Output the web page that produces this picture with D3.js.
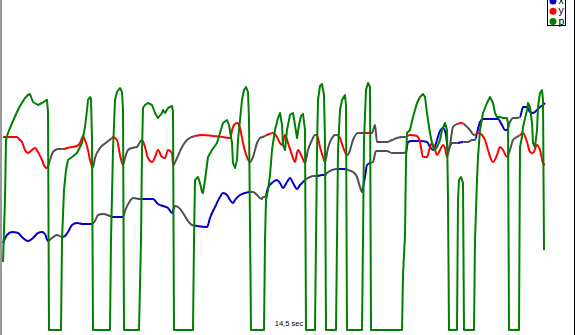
<!DOCTYPE html>
<html><head><meta charset="utf-8">
<script src="https://cdn.jsdelivr.net/npm/d3@7"></script>
<style>html,body{margin:0;padding:0;background:#fff;}svg{display:block;font-family:"Liberation Sans",Arial,sans-serif;}</style>
</head><body><svg id="c" width="576" height="335"></svg>
<script>
// time axis: frames; value axis: sensor units
const seriesNames = ["x", "y", "p"];
const durationLabel = "14,5 sec";

const pT = [3,5,6,8,10,13,17,20,25,28,30,33,38,42,45,47,48,49,61,62,64,66,68,72,77,82,85,87,88,90,91,92,93,110,111,113,115,117,120,122,123,124,139,141,142,143,145,148,152,155,158,162,163,165,168,172,173,174,193,194,195,198,200,202,203,205,208,212,217,220,223,227,229,232,233,235,237,238,240,242,244,246,248,249,251,264,265,266,268,270,272,275,278,280,282,283,285,287,290,293,295,297,299,301,303,305,306,315,316,317,318,320,322,324,325,326,336,337,338,340,342,345,346,347,362,363,364,366,368,370,371,402,403,405,406,407,410,413,417,420,423,425,427,428,430,432,433,435,437,440,442,445,447,448,449,457,458,459,461,463,464,474,475,477,478,480,483,487,490,493,495,497,500,503,507,508,509,519,520,522,523,527,528,530,532,533,535,537,538,540,542,543,544];
const pV = [68,130,190,197,202,209,218,224,232,235,236,228,225,227,229,230,218,0,0,90,140,160,170,173,177,187,203,220,230,233,231,190,0,0,90,180,230,238,242,238,220,0,0,90,180,222,225,227,225,217,212,217,220,217,222,224,218,0,0,90,150,153,147,138,137,150,173,180,187,197,207,210,205,187,167,162,170,190,210,230,240,243,238,210,0,0,90,130,140,155,180,200,212,217,205,185,180,200,215,217,205,192,205,214,216,200,0,0,90,180,230,244,246,235,190,0,0,90,180,220,230,235,225,0,0,90,190,240,247,243,0,0,55,95,170,197,200,213,227,233,236,233,217,210,197,187,183,180,183,190,200,207,200,130,0,0,130,150,153,147,0,0,90,150,173,200,217,227,233,227,217,213,213,212,212,207,0,0,183,193,203,220,227,223,207,187,183,200,223,237,240,230,80];

const xT = [3,7,12,18,23,28,33,38,42,45,48,52,57,62,65,68,72,77,83,92,95,98,103,110,113,123,125,130,133,140,153,158,163,168,172,175,178,183,188,192,197,207,210,215,220,223,227,230,233,235,240,245,250,253,257,260,262,263,265,268,273,277,280,283,287,290,293,297,300,303,305,310,313,317,322,325,327,332,337,345,348,353,357,360,362,363,365,367,370,373,376,387,392,400,403,406,408,412,420,427,430,433,437,440,443,446,448,452,457,463,468,472,475,477,480,483,493,498,502,505,507,510,513,517,520,522,523,527,530,533,537,540,543,545];
const xV = [87,95,98,97,92,89,92,97,98,96,89,92,95,93,94,98,105,107,106,106,109,115,116,114,113,113,119,129,132,131,131,126,124,122,117,124,123,117,109,105,104,103,112,123,133,137,135,130,127,130,135,137,138,138,135,132,131,133,133,142,148,150,147,142,148,152,147,141,145,148,150,153,154,154,155,155,157,160,161,161,160,158,153,143,138,143,153,165,167,168,179,179,177,177,177,178,188,189,189,188,183,180,190,199,202,195,180,187,187,188,188,190,190,197,208,211,211,211,205,200,200,208,212,212,213,220,223,223,218,217,220,223,225,227];

const yT = [3,17,19,22,25,28,32,35,38,42,45,47,50,53,58,63,67,72,77,80,82,83,85,88,90,93,95,100,107,112,113,117,120,123,125,128,132,137,140,142,145,148,152,155,158,162,165,168,172,173,177,182,187,192,195,203,213,223,230,233,237,240,243,247,250,253,257,260,263,267,273,277,280,282,285,288,292,295,297,298,302,305,308,312,315,317,320,323,325,328,332,335,337,340,343,347,349,353,358,362,367,372,375,377,387,392,397,402,405,410,417,420,423,427,430,432,435,437,440,443,445,447,450,453,457,462,465,470,474,478,482,485,488,493,497,500,503,507,510,513,517,520,523,527,530,533,537,540,543,545];
const yV = [193,193,191,188,180,177,180,182,178,170,163,162,170,178,181,181,182,183,184,187,192,194,190,180,170,163,172,182,188,192,193,190,175,165,172,180,182,183,188,190,183,172,168,173,180,173,172,180,177,165,172,183,190,193,194,195,194,193,192,203,207,202,187,173,168,173,187,192,193,195,197,193,187,185,195,187,175,168,177,180,173,167,180,190,195,195,183,173,168,182,192,195,195,192,183,175,177,190,197,197,197,197,205,188,188,190,192,193,193,195,194,188,173,173,183,187,180,175,180,185,182,173,185,203,206,207,205,200,195,197,195,190,180,168,175,183,180,173,180,190,193,195,197,188,178,177,185,180,167,165];

const colors = {x: "#0000c8", y: "#ff0000", p: "#008000", idle: "#505050"};

const svg = d3.select("#c");
const W = 576, H = 335;
const t = d3.scaleLinear().domain([0, 576]).range([0, 576]);
const v = d3.scaleLinear().domain([0, 330]).range([330, 0]);

// pen-up intervals derived from pressure falling below threshold
const thr = 100;
const ups = [];
let start = null;
for (let i = 1; i < pT.length; i++) {
  const a = pV[i-1], b = pV[i];
  if (a >= thr && b < thr) start = pT[i-1] + (a - thr) / (a - b) * (pT[i] - pT[i-1]);
  if (a < thr && b >= thr && start !== null) {
    const end = pT[i-1] + (thr - a) / (b - a) * (pT[i] - pT[i-1]);
    ups.push([start, end]); start = null;
  }
}
const downs = [];
let prev = 0;
ups.forEach(u => { downs.push([prev, u[0]]); prev = u[1]; });
downs.push([prev, 576]);

const defs = svg.append("defs");
function clip(id, ivs) {
  defs.append("clipPath").attr("id", id).selectAll("rect").data(ivs).join("rect")
    .attr("x", d => t(d[0])).attr("width", d => t(d[1]) - t(d[0]))
    .attr("y", -5).attr("height", H + 10);
}
clip("up", ups);
clip("down", downs);

function pathOf(T, V, curve) {
  const pts = T.map((d, i) => [d, V[i]]);
  return d3.line().x(d => t(d[0])).y(d => v(d[1])).curve(curve)(pts);
}
function drawPen(T, V, col) {
  const d = pathOf(T, V, d3.curveMonotoneX);
  svg.append("path").attr("d", d).attr("fill", "none").attr("stroke", col)
    .attr("stroke-width", 2).attr("stroke-linejoin", "round").attr("clip-path", "url(#down)");
  svg.append("path").attr("d", d).attr("fill", "none").attr("stroke", colors.idle)
    .attr("stroke-width", 2).attr("stroke-linejoin", "round").attr("clip-path", "url(#up)");
}
drawPen(xT, xV, colors.x);
drawPen(yT, yV, colors.y);
svg.append("path").attr("d", pathOf(pT, pV, d3.curveLinear)).attr("fill", "none")
  .attr("stroke", colors.p).attr("stroke-width", 2).attr("stroke-linejoin", "round");

// frame borders
svg.append("rect").attr("x", 0).attr("y", 0).attr("width", 2).attr("height", H).attr("fill", "#999");
svg.append("line").attr("x1", 574.5).attr("x2", 574.5).attr("y1", 0).attr("y2", H).attr("stroke", "#000");

// duration label
svg.append("text").attr("x", 289).attr("y", 326).attr("text-anchor", "middle")
  .attr("font-size", 7.5).attr("fill", "#000").text(durationLabel);

// legend
const lg = svg.append("g");
lg.append("rect").attr("x", 547.5).attr("y", -10).attr("width", 18).attr("height", 35.5)
  .attr("fill", "#fff").attr("stroke", "#000").attr("stroke-width", 1);
const ly = d3.scalePoint().domain(seriesNames).range([1, 21.5]);
lg.selectAll("circle").data(seriesNames).join("circle")
  .attr("cx", 553).attr("cy", d => ly(d)).attr("r", 3.5).attr("fill", d => colors[d]);
lg.selectAll("text").data(seriesNames).join("text")
  .attr("x", 558.5).attr("y", d => ly(d) + 3).attr("font-size", 10.5).attr("fill", "#000").text(d => d);
</script></body></html>
